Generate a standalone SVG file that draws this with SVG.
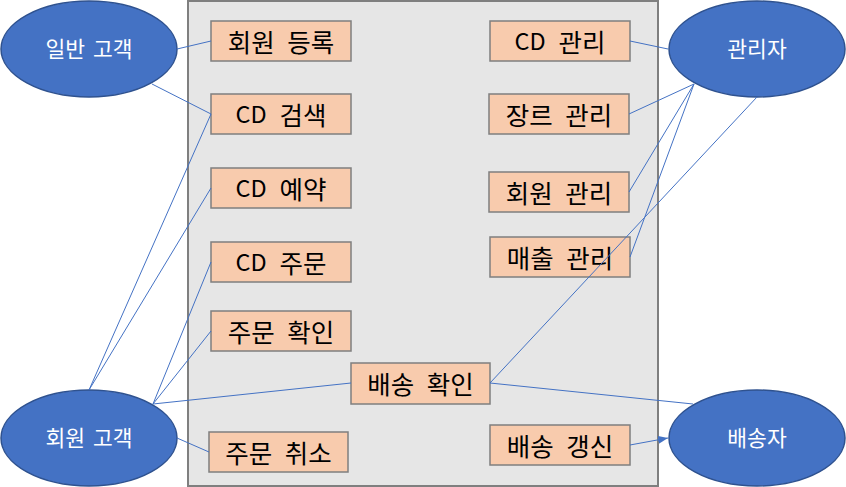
<svg xmlns="http://www.w3.org/2000/svg" width="846" height="487" viewBox="0 0 846 487">
<style>
.box{fill:#f8cbad;stroke:#7f7f7f;stroke-width:1.5}
.uc{fill:#4472c4;stroke:#2f528f;stroke-width:1.5}
.bt{font-family:"Noto Sans CJK KR","Noto Sans",sans-serif;font-size:25.5px;fill:#000;text-anchor:middle;dominant-baseline:central;word-spacing:7px}
.lat{font-size:23.5px}
.ut{font-family:"Noto Sans CJK KR","Noto Sans",sans-serif;font-size:21.5px;fill:#fff;text-anchor:middle;dominant-baseline:central;word-spacing:3px}
.ln{stroke:#4472c4;stroke-width:1;fill:none}
</style>
<defs>
<marker id="ah" markerWidth="10" markerHeight="8" refX="10" refY="4" orient="auto" markerUnits="userSpaceOnUse">
<path d="M0,0 L10,4 L0,8 Z" fill="#4472c4"/>
</marker>
</defs>
<rect id="system" x="188" y="1" width="470" height="485" fill="#e6e6e6" stroke="#7f7f7f" stroke-width="2"/>
<g id="actor-general"><ellipse class="uc" cx="89" cy="49" rx="88" ry="48"/><text class="ut" x="89" y="47">일반 고객</text></g>
<g id="actor-admin"><ellipse class="uc" cx="757" cy="49" rx="88" ry="48"/><text class="ut" x="757" y="47">관리자</text></g>
<g id="actor-member"><ellipse class="uc" cx="89" cy="438" rx="88" ry="48"/><text class="ut" x="89" y="436">회원 고객</text></g>
<g id="actor-delivery"><ellipse class="uc" cx="757" cy="438" rx="88" ry="48"/><text class="ut" x="757" y="436">배송자</text></g>
<g id="uc-register"><rect class="box" x="211" y="21" width="140" height="40"/><text class="bt" x="281" y="40">회원 등록</text></g>
<g id="uc-search"><rect class="box" x="211" y="94" width="140" height="40"/><text class="bt" x="281" y="113"><tspan class="lat">CD</tspan> 검색</text></g>
<g id="uc-reserve"><rect class="box" x="211" y="168" width="140" height="40"/><text class="bt" x="281" y="187"><tspan class="lat">CD</tspan> 예약</text></g>
<g id="uc-order"><rect class="box" x="211" y="242" width="140" height="40"/><text class="bt" x="281" y="261"><tspan class="lat">CD</tspan> 주문</text></g>
<g id="uc-order-check"><rect class="box" x="211" y="311" width="140" height="40"/><text class="bt" x="281" y="330">주문 확인</text></g>
<g id="uc-order-cancel"><rect class="box" x="209" y="432" width="139" height="40"/><text class="bt" x="278.5" y="451">주문 취소</text></g>
<g id="uc-delivery-check"><rect class="box" x="351" y="363" width="139" height="41"/><text class="bt" x="420.5" y="382">배송 확인</text></g>
<g id="uc-delivery-update"><rect class="box" x="490" y="425" width="140" height="40"/><text class="bt" x="560" y="444">배송 갱신</text></g>
<g id="uc-cd-manage"><rect class="box" x="490" y="21" width="140" height="40"/><text class="bt" x="560" y="40"><tspan class="lat">CD</tspan> 관리</text></g>
<g id="uc-genre-manage"><rect class="box" x="489" y="94" width="140" height="40"/><text class="bt" x="559" y="113">장르 관리</text></g>
<g id="uc-member-manage"><rect class="box" x="489" y="172" width="140" height="40"/><text class="bt" x="559" y="191">회원 관리</text></g>
<g id="uc-sales-manage"><rect class="box" x="490" y="237" width="140" height="40"/><text class="bt" x="560" y="256">매출 관리</text></g>
<g id="connectors">
<line class="ln" x1="177" y1="49" x2="211" y2="41"/>
<line class="ln" x1="152" y1="84" x2="211" y2="114"/>
<line class="ln" x1="89" y1="390" x2="211" y2="114"/>
<line class="ln" x1="89" y1="390" x2="211" y2="188"/>
<line class="ln" x1="153" y1="404" x2="211" y2="262"/>
<line class="ln" x1="153" y1="404" x2="211" y2="331"/>
<line class="ln" x1="153" y1="404" x2="351" y2="383"/>
<line class="ln" x1="177" y1="438" x2="209" y2="452"/>
<line class="ln" x1="630" y1="41" x2="668" y2="49"/>
<line class="ln" x1="629" y1="114" x2="694" y2="84"/>
<line class="ln" x1="629" y1="192" x2="694" y2="84"/>
<line class="ln" x1="630" y1="257" x2="694" y2="84"/>
<line class="ln" x1="757" y1="97" x2="490" y2="383"/>
<line class="ln" x1="490" y1="383" x2="693" y2="404"/>
<line class="ln" x1="630" y1="445" x2="668" y2="438" marker-end="url(#ah)"/>
</g>
</svg>
